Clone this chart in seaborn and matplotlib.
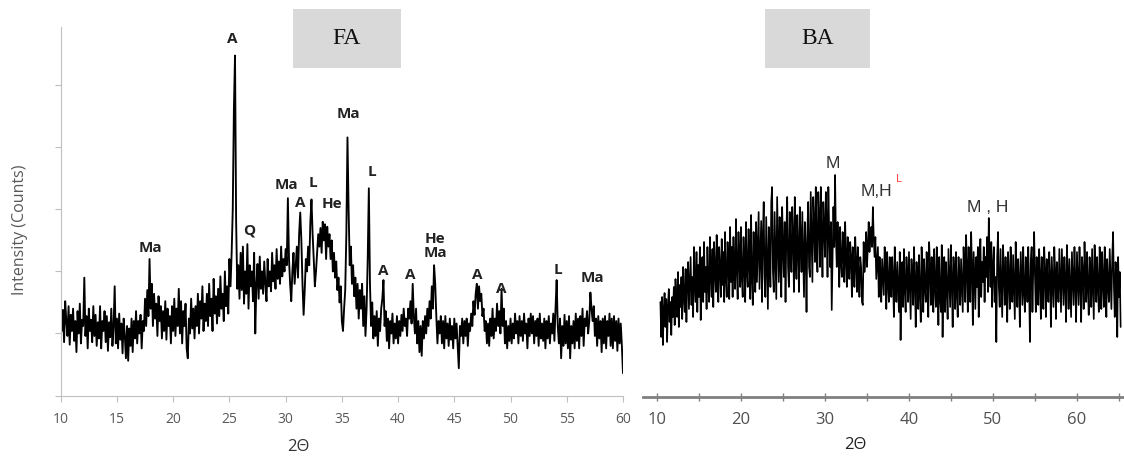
'''
XRD patterns of fly ash (FA) and bottom ash (BA), side by side,
with the crystalline phases marked above their peaks.
'''

# Libraries
import matplotlib
matplotlib.use('Agg')
import matplotlib.pyplot as plt
from matplotlib.patches import Rectangle
import seaborn as sns
import numpy as np

# FA pattern, every 0.1 deg from 10 to 60 (one row = 1 deg)
fa_counts = [
    780, 520, 690, 430, 760, 600, 480, 720, 410, 650,
    520, 700, 440, 600, 350, 680, 500, 740, 420, 610,
    560, 950, 480, 640, 380, 700, 520, 610, 430, 720,
    480, 650, 400, 590, 460, 720, 380, 600, 520, 680,
    430, 640, 360, 590, 470, 700, 400, 550, 880, 420,
    620, 380, 660, 450, 580, 340, 620, 480, 300, 560,
    280, 540, 400, 620, 350, 600, 460, 680, 420, 600,
    500, 650, 380, 600, 520, 780, 560, 850, 640, 1100,
    700, 900, 560, 820, 620, 740, 480, 800, 600, 720,
    460, 680, 520, 760, 450, 700, 560, 640, 420, 720,
    520, 780, 480, 700, 560, 860, 500, 760, 420, 680,
    560, 740, 380, 300, 620, 500, 780, 540, 700, 460,
    720, 560, 820, 500, 760, 620, 880, 520, 740, 600,
    820, 560, 900, 640, 780, 520, 940, 660, 800, 580,
    860, 640, 960, 700, 820, 600, 1000, 720, 880, 660,
    1100, 880, 1150, 1500, 2300, 2740, 1400, 860, 1050, 780,
    1150, 850, 1200, 740, 1000, 820, 1220, 700, 1050, 880,
    1000, 760, 1150, 500, 900, 1060, 780, 1120, 860, 1000,
    820, 1080, 900, 760, 1100, 880, 1000, 840, 1150, 920,
    1050, 860, 1180, 940, 1080, 900, 1200, 960, 1100, 1000,
    1180, 1050, 1590, 1100, 900, 760, 1000, 1150, 900, 1050,
    1200, 950, 1300, 1475, 1250, 900, 650, 850, 1100, 1000,
    1200, 1050, 1400, 1580, 1300, 1100, 880, 1000, 1150, 1300,
    1200, 1350, 1150, 1400, 1250, 1380, 1100, 1360, 1200, 1300,
    1100, 1250, 1000, 1150, 950, 1080, 850, 950, 750, 880,
    600, 520, 700, 850, 1300, 2080, 1500, 1050, 1200, 900,
    1050, 800, 950, 700, 900, 620, 850, 700, 900, 560,
    800, 480, 700, 1100, 1670, 900, 560, 750, 460, 640,
    480, 680, 400, 620, 520, 700, 780, 930, 560, 680,
    440, 620, 380, 600, 500, 660, 420, 580, 460, 640,
    420, 600, 480, 650, 520, 700, 560, 620, 480, 700,
    620, 760, 580, 900, 640, 500, 700, 420, 600, 350,
    560, 320, 600, 460, 640, 500, 700, 560, 760, 620,
    880, 700, 1050, 900, 640, 420, 600, 500, 640, 420,
    600, 380, 640, 460, 580, 400, 620, 450, 560, 380,
    620, 460, 580, 400, 220, 560, 480, 620, 420, 600,
    480, 620, 400, 580, 520, 660, 560, 760, 650, 820,
    900, 700, 880, 760, 820, 640, 700, 520, 600, 420,
    580, 400, 620, 480, 700, 460, 620, 520, 740, 560,
    680, 500, 860, 560, 700, 420, 600, 380, 560, 440,
    620, 420, 580, 460, 660, 500, 600, 420, 640, 480,
    600, 440, 660, 500, 580, 380, 620, 480, 660, 500,
    640, 420, 600, 480, 620, 400, 660, 460, 580, 440,
    620, 380, 600, 460, 640, 420, 580, 500, 660, 440,
    700, 930, 560, 420, 620, 300, 560, 400, 650, 420,
    600, 380, 640, 300, 560, 420, 600, 380, 660, 440,
    620, 380, 640, 480, 700, 400, 620, 560, 680, 500,
    600, 830, 700, 600, 720, 480, 620, 400, 640, 460,
    600, 350, 620, 420, 640, 380, 600, 480, 660, 400,
    620, 380, 640, 440, 600, 360, 620, 420, 580, 400,
    180,
]
fa_two_theta = np.linspace(10, 60, len(fa_counts))

# BA pattern (no intensity scale in the picture), every 0.1 deg from 10.4 to 65.2
ba_counts = [
    95, 60, 100, 52, 88, 104,
    70, 98, 55, 90, 108, 75, 95, 62, 100, 80,
    110, 72, 118, 95, 80, 125, 70, 112, 90, 120,
    78, 130, 100, 85, 128, 75, 120, 135, 88, 115,
    140, 92, 120, 80, 150, 110, 95, 145, 85, 132,
    100, 150, 77, 120, 140, 95, 155, 105, 130, 88,
    150, 112, 95, 160, 120, 100, 148, 90, 155, 125,
    105, 162, 118, 95, 150, 130, 100, 158, 112, 145,
    95, 165, 120, 100, 155, 135, 98, 170, 115, 150,
    100, 160, 125, 108, 178, 130, 98, 165, 140, 110,
    170, 120, 100, 160, 135, 95, 175, 125, 110, 168,
    140, 98, 182, 120, 92, 165, 130, 105, 175, 115,
    150, 185, 108, 140, 176, 95, 160, 195, 120, 100,
    180, 135, 88, 170, 150, 110, 195, 210, 125, 105,
    185, 140, 98, 200, 160, 115, 180, 130, 100, 190,
    150, 120, 175, 95, 165, 200, 130, 110, 185, 145,
    125, 190, 160, 105, 200, 140, 118, 182, 150, 105,
    190, 160, 125, 185, 140, 100, 175, 150, 85, 165,
    195, 130, 120, 205, 160, 115, 200, 175, 135, 210,
    150, 125, 205, 180, 130, 210, 160, 120, 195, 170,
    140, 205, 175, 120, 210, 165, 130, 175, 87, 140,
    190, 150, 222, 160, 130, 175, 145, 110, 170, 135,
    120, 165, 145, 115, 175, 140, 110, 160, 130, 118,
    155, 140, 100, 150, 125, 110, 160, 135, 105, 150,
    120, 100, 140, 130, 95, 92, 155, 125, 140, 165,
    130, 150, 175, 145, 160, 170, 150, 190, 160, 140,
    160, 118, 135, 150, 100, 140, 125, 95, 138, 120,
    102, 150, 130, 88, 145, 115, 95, 140, 125, 100,
    140, 118, 80, 150, 120, 95, 135, 110, 85, 145,
    57, 120, 135, 90, 148, 110, 85, 140, 120, 95,
    145, 110, 78, 138, 120, 92, 150, 115, 70, 135,
    120, 88, 142, 105, 75, 150, 125, 85, 138, 110,
    95, 145, 120, 80, 155, 130, 92, 140, 115, 85,
    148, 110, 90, 150, 125, 72, 140, 100, 85, 152,
    60, 120, 140, 85, 135, 110, 78, 148, 120, 90,
    152, 115, 70, 140, 125, 88, 145, 105, 80, 140,
    120, 92, 138, 110, 85, 150, 125, 95, 162, 130,
    85, 150, 120, 95, 165, 130, 72, 145, 115, 88,
    140, 110, 150, 80, 125, 158, 100, 135, 115, 150,
    95, 140, 120, 160, 105, 179, 140, 110, 155, 90,
    130, 150, 95, 120, 55, 140, 165, 110, 90, 148,
    115, 80, 152, 125, 92, 140, 110, 75, 145, 120,
    88, 150, 118, 95, 142, 110, 78, 155, 125, 90,
    138, 115, 70, 145, 120, 92, 150, 105, 85, 140,
    120, 95, 150, 110, 55, 135, 150, 85, 130, 165,
    120, 85, 140, 110, 92, 148, 120, 78, 140, 105,
    88, 150, 125, 80, 138, 110, 95, 145, 120, 70,
    140, 115, 90, 150, 125, 78, 135, 110, 95, 148,
    118, 85, 148, 120, 92, 140, 115, 75, 152, 125,
    88, 138, 110, 80, 145, 120, 92, 150, 115, 75,
    145, 120, 92, 150, 115, 75, 140, 125, 88, 155,
    120, 95, 145, 110, 82, 140, 125, 90, 148, 115,
    78, 152, 120, 95, 140, 110, 85, 150, 125, 88,
    145, 115, 90, 150, 120, 80, 138, 112, 95, 148,
    118, 88, 140, 165, 110, 80, 135, 120, 60, 140,
    100, 125, 70,
]
ba_two_theta = np.linspace(10.4, 65.2, len(ba_counts))

# phase labels
fa_peaks = ['A', 'Ma', 'Q', 'Ma', 'A', 'L', 'He', 'Ma', 'L', 'He\nMa',
            'A', 'A', 'A', 'A', 'L', 'Ma']
fa_peak_x = [25.25, 18.0, 26.8, 30.1, 31.3, 32.45, 34.1, 35.6, 37.7, 43.3,
             38.7, 41.1, 47.05, 49.2, 54.2, 57.3]
fa_peak_y = [2870, 1185, 1330, 1700, 1550, 1710, 1540, 2270, 1800, 1205,
             1000, 970, 975, 860, 1015, 945]

ba_peaks = ['M', 'M,H', 'M , H']
ba_peak_x = [30.9, 36.15, 49.4]
ba_peak_y = [233, 206, 190]

W, H = 1124, 457
GREY = '#bfbfbf'
TXT = '#595959'

sns.set_style('white')
plt.rcParams['font.family'] = ['Open Sans', 'DejaVu Sans']

fig = plt.figure(figsize=(W / 100, H / 100), dpi=100)

# ---- FA panel ----
ax1 = fig.add_axes([60.7 / W, 61.5 / H, 562.3 / W, 368.5 / H])
sns.lineplot(x=fa_two_theta, y=fa_counts, ax=ax1, color='black',
             linewidth=1.35, estimator=None)
ax1.set_xlim(10, 60)
ax1.set_ylim(0, 2970)
ax1.set_xticks(np.arange(10, 61, 5))
ax1.set_yticks(np.arange(0, 2501, 500))
ax1.set_yticklabels([])
ax1.tick_params(axis='both', bottom=True, left=True, length=4, width=0.8,
                color=GREY, labelcolor=TXT, labelsize=10, direction='out')
ax1.tick_params(axis='x', pad=8)
for side in ['top', 'right']:
    ax1.spines[side].set_visible(False)
for side in ['left', 'bottom']:
    ax1.spines[side].set_color(GREY)
    ax1.spines[side].set_linewidth(0.8)
for lab, x, y in zip(fa_peaks, fa_peak_x, fa_peak_y):
    ax1.text(x, y, lab, ha='center', va='center', fontsize=11,
             fontweight='bold', color='#222222', linespacing=0.95)

# ---- BA panel ----
ax2 = fig.add_axes([643 / W, 60 / H, 481 / W, 370 / H])
sns.lineplot(x=ba_two_theta, y=ba_counts, ax=ax2, color='black',
             linewidth=1.2, estimator=None)
ax2.set_xlim(8.33, 65.6)
ax2.set_ylim(0, 370)
ax2.set_xticks(np.arange(10, 61, 10))
ax2.set_xticks(np.arange(15, 66, 10), minor=True)
ax2.set_yticks([])
ax2.tick_params(axis='x', which='both', bottom=True, direction='inout',
                length=6, width=1, color='#808080', labelcolor='#505050',
                labelsize=12, pad=8)
for side in ['top', 'right', 'left']:
    ax2.spines[side].set_visible(False)
ax2.spines['bottom'].set_color('#808080')
ax2.spines['bottom'].set_linewidth(2)
for lab, x, y in zip(ba_peaks, ba_peak_x, ba_peak_y):
    ax2.text(x, y, lab, ha='center', va='center', fontsize=12.5,
             color='#333333', family=['Liberation Sans', 'DejaVu Sans'])
ax2.text(38.8, 218, 'L', ha='center', va='center', fontsize=8,
         color='#ff3333')

# axis titles
fig.text(20 / W, 1 - 230 / H, 'Intensity (Counts)', rotation=90,
         ha='center', va='center', fontsize=11.5, color=TXT)
fig.text(298 / W, 1 - 447 / H, '2\u0398', ha='center', va='center',
         fontsize=12, color='#333333')
fig.text(855 / W, 1 - 445 / H, '2\u0398', ha='center', va='center',
         fontsize=12, color='#222222')

# grey name boxes
for x0, x1, name in [(293, 401, 'FA'), (765, 870, 'BA')]:
    fig.add_artist(Rectangle((x0 / W, 1 - 68 / H), (x1 - x0) / W, 59 / H,
                             transform=fig.transFigure, facecolor='#d9d9d9',
                             edgecolor='none'))
    fig.text((x0 + x1) / 2 / W, 1 - 38.5 / H, name, ha='center',
             va='center', fontsize=17, color='#111111',
             family=['Liberation Serif', 'DejaVu Serif'])

fig.savefig('out.png', dpi=100)
